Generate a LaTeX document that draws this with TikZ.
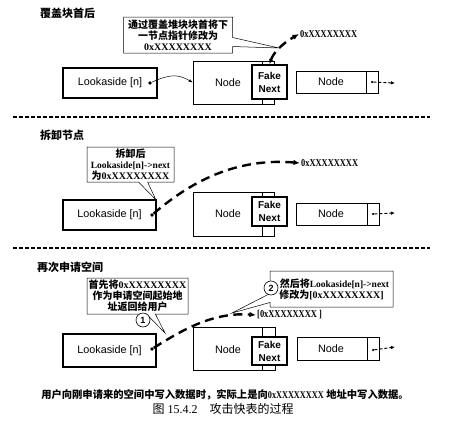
\documentclass[tikz,border=0pt]{standalone}
\usepackage{fontspec}
\usepackage{graphicx}
\setmainfont{Liberation Serif}
\setsansfont{Liberation Sans}
\newfontfamily\cjk{Noto Sans CJK SC}
\usetikzlibrary{arrows.meta,shapes.callouts}
\newcommand{\zhb}[1]{{\cjk\bfseries #1}}
\newcommand{\hexb}[1]{\scalebox{0.8}[1]{\bfseries #1}}
\tikzset{
  lbox/.style={draw, line width=1.1pt, font=\sffamily\fontsize{10.8}{12}\selectfont, inner sep=0pt},
  nbox/.style={draw, line width=0.5pt, inner sep=0pt},
  fakebox/.style={draw, line width=1.8pt, fill=white, inner sep=0pt, align=center,
     font=\sffamily\bfseries\fontsize{10}{13}\selectfont},
  lab/.style={font=\sffamily\fontsize{10.8}{12}\selectfont, inner sep=0pt},
  dotn/.style={circle, fill=black, inner sep=0pt, minimum size=3.8pt},
  ptr/.style={line width=2.4pt, dash pattern=on 9pt off 5.5pt, -{Latex[length=6.5pt,width=5.5pt]}},
  sptr/.style={line width=1pt, dash pattern=on 3pt off 2pt, -{Latex[length=4pt,width=3.5pt]}},
  callbox/.style={rectangle callout, draw, fill=white, line width=0.5pt, inner sep=0pt, align=center,
     callout pointer width=9pt, font=\fontsize{10}{11}\selectfont},
  ttl/.style={anchor=west, inner sep=0pt, font=\cjk\bfseries\fontsize{11}{13}\selectfont},
  hexl/.style={anchor=west, inner sep=1pt, font=\fontsize{10.5}{12}\selectfont},
  numc/.style={circle, draw, fill=white, line width=0.6pt, inner sep=0pt, minimum size=14pt,
     font=\sffamily\bfseries\fontsize{9}{9}\selectfont},
  sep/.style={line width=1.1pt, dash pattern=on 4pt off 2pt}
}
\begin{document}
\begin{tikzpicture}[x=1pt,y=-1pt]
\useasboundingbox (0,0) rectangle (465,431);
% ---------------- section 1
\node[ttl] (t1) at (40,13) {覆盖块首后};
\node[lbox, minimum width=94pt, minimum height=30pt] (la1) at (110,83) {Lookaside [n]\hspace{14pt}};
\node[dotn] (d1) at (150,83) {};
\node[nbox, minimum width=81pt, minimum height=43pt] (nd1) at (233.5,82.5) {};
\draw[line width=0.5pt] (262,61) -- (262,104);
\node[lab] (nl1) at (228,83) {Node};
\node[fakebox, minimum width=35pt, minimum height=34pt] (fk1) at (269.5,82) {Fake\\Next};
\node[nbox, minimum width=82pt, minimum height=22pt] (nn1) at (337,82) {};
\draw[line width=0.5pt] (366,71) -- (366,93);
\node[lab] (nnl1) at (331,82) {Node};
\node[dotn, minimum size=2.5pt] (e1) at (372,82) {};
\coordinate (f1) at (395,83);
\draw[sptr] (e1) -- (f1);
\draw[line width=0.5pt, -{Latex[length=4pt,width=3pt]}] (d1) .. controls (170,74) and (178,74) .. (nd1.west);
\node[hexl] (h1) at (299,34) {\hexb{0xXXXXXXXX}};
\draw[ptr, {Latex[length=5pt,width=4.5pt]}-{Latex[length=6.5pt,width=5.5pt]}] (fk1.north) .. controls (273,54) and (280,45) .. (h1.west);
\node[callbox, minimum width=109pt, minimum height=36pt, callout absolute pointer={(279,48)}] (c1) at (178,35)
  {\zhb{通过覆盖堆块块首将下}\\ \zhb{一节点指针修改为}\\ {\bfseries 0xXXXXXXXX}};
\draw[sep] (13,117) -- (430,117);
% ---------------- section 2
\node[ttl] (t2) at (40,135) {拆卸节点};
\node[lbox, minimum width=93pt, minimum height=30pt] (la2) at (109.5,215) {Lookaside [n]\hspace{14pt}};
\node[dotn] (d2) at (152,215) {};
\node[nbox, minimum width=81pt, minimum height=44pt] (nd2) at (233.5,214) {};
\draw[line width=0.5pt] (262,192) -- (262,236);
\node[lab] (nl2) at (228,214) {Node};
\node[fakebox, minimum width=35pt, minimum height=29pt] (fk2) at (269.5,211.5) {Fake\\Next};
\node[nbox, minimum width=83pt, minimum height=22pt] (nn2) at (337.5,214) {};
\draw[line width=0.5pt] (367,203) -- (367,225);
\node[lab] (nnl2) at (331,214) {Node};
\node[dotn, minimum size=2.5pt] (e2) at (373,214) {};
\coordinate (f2) at (395,213);
\draw[sptr] (e2) -- (f2);
\node[hexl] (h2) at (300,163) {\hexb{0xXXXXXXXX}};
\draw[ptr] (d2) .. controls (195,178) and (240,158) .. (h2.west);
\node[callbox, minimum width=87pt, minimum height=35pt, callout absolute pointer={(156,200)}] (c2) at (130.5,164.5)
  {\zhb{拆卸后}\\ {\bfseries\fontsize{9.5}{11}\selectfont Lookaside[n]->next}\\ \zhb{为}{\bfseries 0xXXXXXXXX}};
\draw[sep] (13,248) -- (430,248);
% ---------------- section 3
\node[ttl] (t3) at (37,267) {再次申请空间};
\node[lbox, minimum width=93pt, minimum height=33pt] (la3) at (109.5,350.5) {Lookaside [n]\hspace{14pt}};
\node[dotn] (d3) at (152,349) {};
\node[nbox, minimum width=82pt, minimum height=43pt] (nd3) at (234,348.5) {};
\draw[line width=0.5pt] (262,327) -- (262,370);
\node[lab] (nl3) at (228,350) {Node};
\node[fakebox, minimum width=35pt, minimum height=28pt] (fk3) at (269.5,351) {Fake\\Next};
\node[nbox, minimum width=82pt, minimum height=23pt] (nn3) at (338,348.5) {};
\draw[line width=0.5pt] (367,337) -- (367,360);
\node[lab] (nnl3) at (331,349) {Node};
\node[dotn, minimum size=2.5pt] (e3) at (373,350) {};
\coordinate (f3) at (395,347);
\draw[sptr] (e3) -- (f3);
\node[hexl] (h3) at (256,315) {\hexb{[0xXXXXXXXX ]}};
\draw[ptr] (d3) .. controls (185,328) and (215,312) .. (h3.west);
\node[callbox, minimum width=101pt, minimum height=36pt, callout absolute pointer={(165,333)}] (c3) at (137.5,296)
  {\zhb{首先将}{\bfseries 0xXXXXXXXX}\\ \zhb{作为申请空间起始地}\\ \zhb{址返回给用户}};
\node[numc] (n1) at (143,320) {1};
\node[callbox, minimum width=123pt, minimum height=36pt, callout absolute pointer={(232,313)}] (c4) at (331.5,289)
  {\hspace{6pt}\zhb{然后将}{\bfseries\fontsize{9.5}{11}\selectfont Lookaside[n]->next}\\ \zhb{修改为}{\bfseries [0xXXXXXXXX]}};
\node[numc] (n2) at (271,288) {2};
% ---------------- bottom
\node[inner sep=0pt, font=\fontsize{10.3}{12}\selectfont] (bt) at (225,395)
  {\zhb{用户向刚申请来的空间中写入数据时，实际上是向}\hexb{0xXXXXXXXX}\ \zhb{地址中写入数据。}};
\node[inner sep=0pt, font=\fontsize{12}{14}\selectfont] (cap) at (223,409)
  {{\cjk 图} 15.4.2\hspace{12pt}{\cjk 攻击快表的过程}};
\end{tikzpicture}
\end{document}
